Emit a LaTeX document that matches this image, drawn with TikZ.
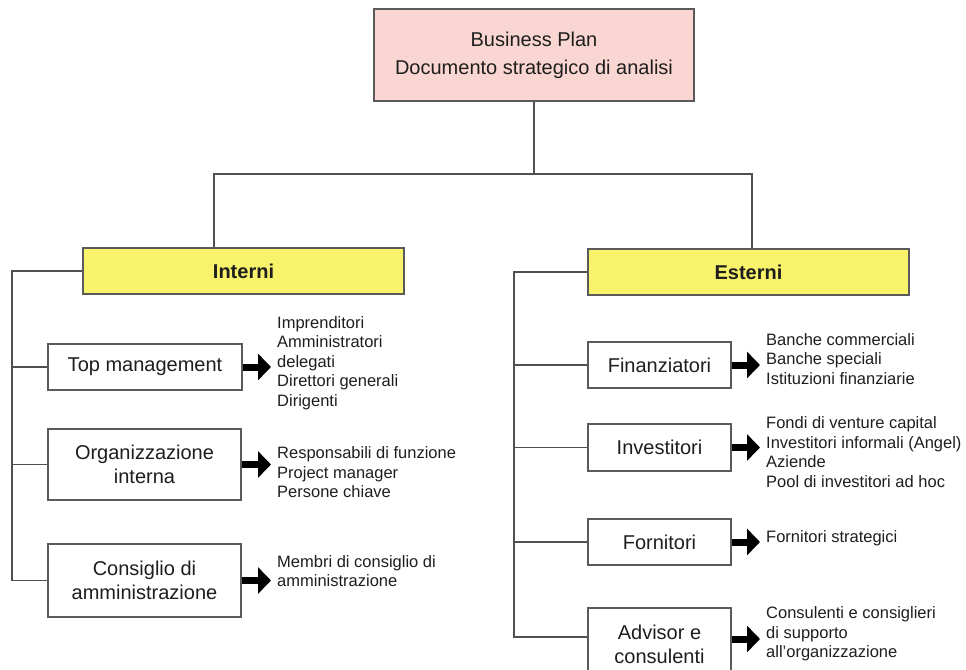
\documentclass[tikz,border=0pt]{standalone}
\usepackage{fontspec}
\setmainfont{Liberation Sans}
\usetikzlibrary{arrows.meta}
\definecolor{linegray}{HTML}{505050}
\definecolor{boxgray}{HTML}{5A5A5A}
\definecolor{pinkfill}{HTML}{F9D6D1}
\definecolor{yellowfill}{HTML}{F8F36A}
\definecolor{txt}{HTML}{1E1E1E}
\begin{document}
\begin{tikzpicture}[x=1pt,y=-1pt,
  every node/.style={text=txt},
  conn/.style={draw=linegray,line width=1.2pt},
  plainbox/.style={draw=boxgray,line width=1.4pt,fill=white,inner sep=0pt,align=center,
    font=\fontsize{20}{24}\selectfont},
  headbox/.style={draw=boxgray,line width=1.4pt,fill=yellowfill,inner sep=0pt,
    minimum width=321pt,minimum height=46pt,font=\fontsize{20}{24}\selectfont\bfseries},
  rootbox/.style={draw=boxgray,line width=1.4pt,fill=pinkfill,inner sep=0pt,align=center,
    minimum width=320pt,minimum height=92pt,font=\fontsize{20}{28}\selectfont},
  listtext/.style={anchor=west,inner sep=0pt,align=left,font=\fontsize{16.5}{19.5}\selectfont},
  bigarrow/.style={line width=7pt,-{Triangle[length=13pt,width=26pt]},shorten >=6pt}]
\useasboundingbox (0,0) rectangle (966,669);
\clip (0,0) rectangle (966,669);

% root of the tree
\node[rootbox] (bp) at (534,55) {Business Plan\\Documento strategico di analisi};

% the two groups
\node[headbox] (interni) at (243.5,271) {Interni};
\node[headbox] (esterni) at (748.5,272) {Esterni};

\coordinate (hub) at (534,174);
\coordinate (hubL) at (214,174);
\coordinate (hubR) at (752,174);
\draw[conn] (bp.south) -- (hub);
\draw[conn] (interni.north -| hubL) -- (hubL) -- (hubR) -- (esterni.north -| hubR);

% internal stakeholders
\node[plainbox,minimum width=194pt,minimum height=46pt] (topm) at (145,367) {Top management};
\node[plainbox,minimum width=193pt,minimum height=71pt] (orgint) at (144.5,464.5) {Organizzazione\\interna};
\node[plainbox,minimum width=193pt,minimum height=73pt] (consiglio) at (144.5,580.5) {Consiglio di\\amministrazione};

\node[listtext] (topmlist) at (277,363) {Imprenditori\\Amministratori\\delegati\\Direttori generali\\Dirigenti};
\node[listtext] (orglist) at (277,472.5) {Responsabili di funzione\\Project manager\\Persone chiave};
\node[listtext] (conslist) at (277,571) {Membri di consiglio di\\amministrazione};

\coordinate (lspine) at (12,0);
\draw[conn] (interni.west) -- (interni.west -| lspine) -- (consiglio.west -| lspine) -- (consiglio.west);
\draw[conn] (topm.west) -- (topm.west -| lspine);
\draw[conn] (orgint.west) -- (orgint.west -| lspine);

\draw[bigarrow] (topm.east) -- (topm.east -| topmlist.west);
\draw[bigarrow] (orgint.east) -- (orgint.east -| orglist.west);
\draw[bigarrow] (consiglio.east) -- (consiglio.east -| conslist.west);

% external stakeholders
\node[plainbox,minimum width=143pt,minimum height=46pt] (fin) at (659.5,365) {Finanziatori};
\node[plainbox,minimum width=143pt,minimum height=47pt] (inv) at (659.5,447.5) {Investitori};
\node[plainbox,minimum width=143pt,minimum height=46pt] (forn) at (659.5,542) {Fornitori};
\node[plainbox,minimum width=143pt,minimum height=72pt] (adv) at (659.5,644) {Advisor e\\consulenti};

\node[listtext] (finlist) at (766,359) {Banche commerciali\\Banche speciali\\Istituzioni finanziarie};
\node[listtext] (invlist) at (766,452) {Fondi di venture capital\\Investitori informali (Angel)\\Aziende\\Pool di investitori ad hoc};
\node[listtext] (fornlist) at (766,538) {Fornitori strategici};
\node[listtext] (advlist) at (766,634) {Consulenti e consiglieri\\di supporto\\all’organizzazione};

\coordinate (rspine) at (514,0);
\draw[conn] (esterni.west) -- (esterni.west -| rspine) -- ([yshift=7pt]adv.west -| rspine) -- ([yshift=7pt]adv.west);
\draw[conn] (fin.west) -- (fin.west -| rspine);
\draw[conn] (inv.west) -- (inv.west -| rspine);
\draw[conn] (forn.west) -- (forn.west -| rspine);

\draw[bigarrow] (fin.east) -- (fin.east -| finlist.west);
\draw[bigarrow] (inv.east) -- (inv.east -| invlist.west);
\draw[bigarrow] (forn.east) -- (forn.east -| fornlist.west);
\draw[bigarrow] ([yshift=5pt]adv.east) -- ([yshift=5pt]adv.east -| advlist.west);
\end{tikzpicture}
\end{document}
